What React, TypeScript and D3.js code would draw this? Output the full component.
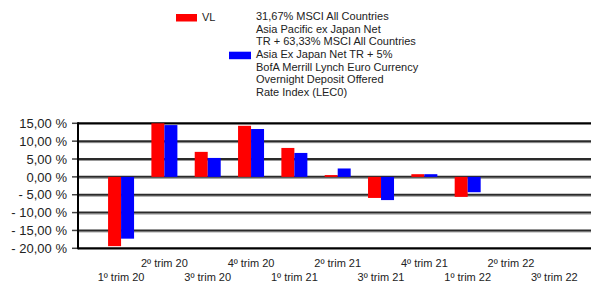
import * as d3 from "d3";

const categories = [
  "1º trim 20", "2º trim 20", "3º trim 20", "4º trim 20",
  "1º trim 21", "2º trim 21", "3º trim 21", "4º trim 21",
  "1º trim 22", "2º trim 22", "3º trim 22",
];
const vl: (number | null)[] = [-19.4, 15.0, 7.0, 14.3, 8.1, 0.5, -5.9, 0.75, -5.6, null, null];
const bench: (number | null)[] = [-17.3, 14.5, 5.3, 13.4, 6.7, 2.35, -6.5, 0.75, -4.3, null, null];
const yTicks = [15, 10, 5, 0, -5, -10, -15, -20];
const benchLabel = [
  "31,67% MSCI All Countries",
  "Asia Pacific ex Japan Net",
  "TR + 63,33% MSCI All Countries",
  "Asia Ex Japan Net TR + 5%",
  "BofA Merrill Lynch Euro Currency",
  "Overnight Deposit Offered",
  "Rate Index (LEC0)",
];

const W = 591;
const H = 282;
const left = 78;
const right = 591;

const fmt = (v: number) =>
  (v < 0 ? "- " : "") + Math.abs(v).toFixed(2).replace(".", ",") + " %";

export default function App() {
  const y = d3.scaleLinear().domain([-20, 15]).range([248.3, 123.3]);
  const x = d3.scaleBand().domain(categories).range([99.4, 576]).padding(0);
  const barW = x.bandwidth() * 0.3;
  const center = (c: string) => (x(c) ?? 0) + x.bandwidth() / 2;
  const font = "Liberation Sans, Arial, sans-serif";

  const bar = (v: number | null, c: string, dx: number, color: string, key: string) => {
    if (v === null) return null;
    const y0 = y(0);
    const y1 = y(v);
    return (
      <rect
        key={key}
        x={center(c) + dx}
        y={Math.min(y0, y1)}
        width={barW}
        height={Math.abs(y1 - y0)}
        fill={color}
      />
    );
  };

  return (
    <svg
      width={W}
      height={H}
      style={{ position: "fixed", left: 0, top: 0, background: "#fff" }}
      fontFamily={font}
    >
      {/* legend */}
      <rect x={176} y={14} width={21} height={7.5} fill="#ff0000" />
      <text x={202} y={21} fontSize={11} fill="#222">VL</text>
      <rect x={229} y={51.7} width={22} height={7.5} fill="#0000ff" />
      {benchLabel.map((t, i) => (
        <text key={t} x={256} y={20 + i * 12.65} fontSize={11} fill="#222">
          {t}
        </text>
      ))}

      {/* grid */}
      {yTicks.map((t) => {
        const yy = y(t);
        const edge = t === 15 || t === -20;
        return (
          <g key={t}>
            <line x1={72} x2={left} y1={yy} y2={yy} stroke="#444" strokeWidth={1.5} />
            {edge ? (
              <line x1={left} x2={right} y1={yy} y2={yy} stroke="#000" strokeWidth={2.2} />
            ) : (
              <>
                <line x1={left} x2={right} y1={yy + 1.5} y2={yy + 1.5} stroke="#999" strokeWidth={1} />
                <line x1={left} x2={right} y1={yy} y2={yy} stroke="#2a2a2a" strokeWidth={2} />
              </>
            )}
            <text
              x={67}
              y={yy + 4.7}
              fontSize={13}
              textAnchor="end"
              fill="#222"
            >
              {fmt(t)}
            </text>
          </g>
        );
      })}

      {/* bars */}
      {categories.map((c, i) => bar(vl[i], c, -barW, "#ff0000", "r" + i))}
      {categories.map((c, i) => bar(bench[i], c, 0, "#0000ff", "b" + i))}

      {/* y axis */}
      <line x1={left} x2={left} y1={y(15) - 1} y2={y(-20) + 1} stroke="#000" strokeWidth={2} />

      {/* x labels */}
      {categories.map((c, i) => (
        <text
          key={c}
          x={center(c)}
          y={i % 2 === 0 ? 280.5 : 267}
          fontSize={11}
          textAnchor="middle"
          fill="#222"
        >
          {c}
        </text>
      ))}
    </svg>
  );
}
